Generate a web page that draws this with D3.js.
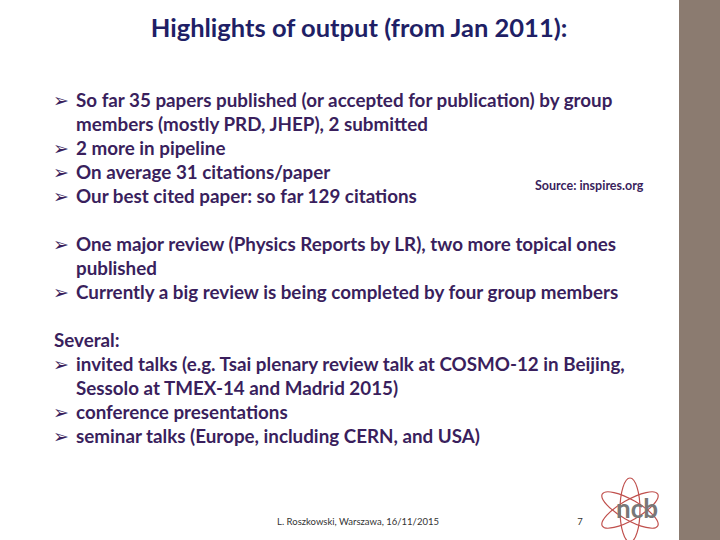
<!DOCTYPE html><html><head><meta charset="utf-8"><script src="https://cdn.jsdelivr.net/npm/d3@7"></script>
<style>body{margin:0}svg{display:block}</style></head><body><script>
const title="Highlights of output (from  Jan 2011):";
const lines=[
 {b:1,t:"So far 35 papers published (or accepted for publication) by group",y:101},
 {b:0,t:"members (mostly PRD, JHEP), 2 submitted",y:125},
 {b:1,t:"2 more in pipeline",y:149},
 {b:1,t:"On average 31 citations/paper",y:173},
 {b:1,t:"Our best cited paper: so far 129 citations",y:197},
 {b:1,t:"One major review (Physics Reports by LR), two more topical ones",y:245},
 {b:0,t:"published",y:269},
 {b:1,t:"Currently a big review is being completed by four group members",y:293},
 {b:-1,t:"Several:",y:341},
 {b:1,t:"invited talks (e.g. Tsai plenary review talk at COSMO-12 in Beijing,",y:365},
 {b:0,t:"Sessolo at TMEX-14 and Madrid 2015)",y:389},
 {b:1,t:"conference presentations",y:413},
 {b:1,t:"seminar talks (Europe, including CERN, and USA)",y:437}];
const svg=d3.select("body").append("svg").attr("width",720).attr("height",540);
svg.append("rect").attr("width",720).attr("height",540).attr("fill","#fff");
svg.append("rect").attr("x",679).attr("width",41).attr("height",540).attr("fill","#8b7b70");
const F="Lato, 'Open Sans', sans-serif", C="#3a1f5d";
svg.append("text").attr("x",359).attr("y",37).attr("text-anchor","middle").attr("font-family",F).attr("font-weight","bold").attr("font-size",25.5).attr("fill","#1f1f66").text(title);
const g=svg.selectAll("g.l").data(lines).join("g");
g.filter(d=>d.b===1).append("text").attr("x",53).attr("y",d=>d.y+6).attr("font-size",19).attr("font-family","DejaVu Sans").attr("font-weight","bold").attr("fill",C).text("➢");
g.append("text").attr("x",d=>d.b<0?54:76).attr("y",d=>d.y+6).attr("font-family",F).attr("font-weight","bold").attr("font-size",18.8).attr("fill",C).text(d=>d.t);
svg.append("text").attr("x",535).attr("y",190).attr("font-family",F).attr("font-weight","bold").attr("font-size",12.5).attr("fill",C).text("Source: inspires.org");
svg.append("text").attr("x",358).attr("y",525).attr("text-anchor","middle").attr("font-family",F).attr("font-size",9.5).attr("fill","#333").text("L. Roszkowski, Warszawa, 16/11/2015");
svg.append("text").attr("x",580).attr("y",525).attr("text-anchor","middle").attr("font-family",F).attr("font-size",9.5).attr("fill","#333").text("7");
const lg=svg.append("g").attr("transform","translate(630,510)");
[[-30],[30],[90]].forEach(a=>lg.append("ellipse").attr("rx",32).attr("ry",10).attr("fill","none").attr("stroke","#c0504d").attr("stroke-width",1.2).attr("transform",`rotate(${a[0]})`));
lg.append("text").attr("x",-14).attr("y",8).attr("font-family",F).attr("font-weight","bold").attr("font-size",26).attr("fill","#777").text("ncb");
</script></body></html>
